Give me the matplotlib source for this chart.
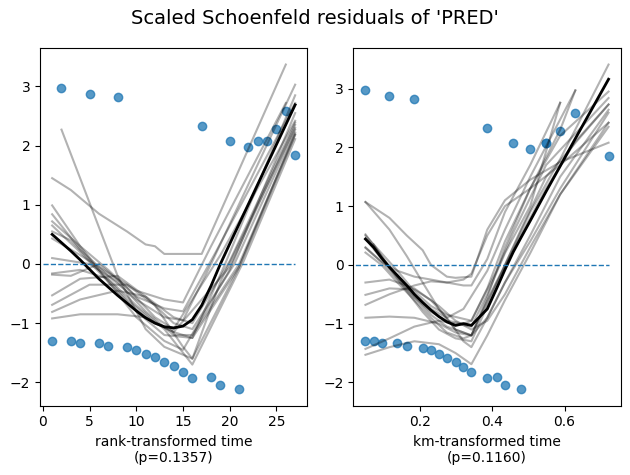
import matplotlib
matplotlib.use("Agg")
import matplotlib.pyplot as plt

# ---- data ----
rank_time = list(range(1, 28))
km_time = [0.0485, 0.0485, 0.071, 0.093, 0.115, 0.137, 0.163, 0.184, 0.207, 0.230,
           0.252, 0.274, 0.298, 0.320, 0.342, 0.386, 0.386, 0.412, 0.435, 0.458,
           0.479, 0.505, 0.549, 0.549, 0.588, 0.630, 0.722]
residuals = [-1.30, 2.97, -1.30, -1.33, 2.88, -1.33, -1.38, 2.82, -1.41, -1.45,
             -1.52, -1.58, -1.65, -1.73, -1.83, -1.93, 2.33, -1.91, -2.05, 2.07,
             -2.12, 1.97, 2.07, 2.07, 2.28, 2.58, 1.85]

# main lowess curves
rank_lowess_x = [1, 2, 3, 4, 5, 6, 7, 8, 9, 10, 11, 12, 13, 14, 15, 16, 17, 18, 19, 20, 27]
rank_lowess_y = [0.50, 0.36, 0.22, 0.07, -0.09, -0.25, -0.39, -0.53, -0.66, -0.79,
                 -0.91, -1.00, -1.06, -1.08, -1.05, -0.94, -0.70, -0.37, 0.0, 0.34, 2.69]
km_lowess_x = [0.0485, 0.071, 0.093, 0.115, 0.137, 0.163, 0.184, 0.207, 0.230, 0.252,
               0.274, 0.298, 0.320, 0.342, 0.386, 0.412, 0.435, 0.458, 0.479, 0.505,
               0.549, 0.588, 0.630, 0.722]
km_lowess_y = [0.44, 0.30, 0.12, -0.04, -0.18, -0.35, -0.50, -0.64, -0.77, -0.88,
               -0.97, -1.03, -1.00, -1.03, -0.75, -0.40, -0.08, 0.22, 0.46, 0.75,
               1.25, 1.68, 2.15, 3.16]

# bootstrap lowess curves (approximate vertices)
rank_boot = [
    [(2, 2.27), (8, -0.2), (11, -1.1), (13, -1.4), (16, -1.6), (19, -0.3), (27, 2.3)],
    [(1, 1.45), (3, 1.25), (6, 0.85), (9, 0.55), (11, 0.33), (12, 0.30), (13, 0.17), (17, 0.17), (26, 3.37)],
    [(1, 0.99), (4, 0.3), (7, -0.3), (10, -0.8), (13, -1.2), (16, -1.25), (19.5, 0.0), (27, 2.85)],
    [(1, 0.84), (4, 0.25), (7, -0.2), (10, -0.6), (13, -0.9), (15, -0.95), (18, 0.0), (27, 3.03)],
    [(1, 0.72), (4, 0.3), (7, -0.1), (10, -0.55), (13, -0.75), (15, -0.8), (18.5, 0.2), (27, 2.72)],
    [(1, 0.55), (3, 0.4), (6, -0.1), (9, -0.6), (12, -1.0), (14, -1.15), (20, -0.05), (27, 2.35)],
    [(1, 0.43), (4, 0.15), (7, -0.15), (10, -0.45), (13, -0.6), (15, -0.65), (18, 0.3), (26, 2.72)],
    [(1, 0.10), (5, 0.0), (8, -0.3), (11, -0.8), (14, -1.2), (16, -1.2), (21, 0.0), (27, 2.19)],
    [(1, -0.16), (4, -0.1), (7, -0.25), (10, -0.7), (13, -1.1), (16, -1.7), (21.5, 0.05), (27, 2.11)],
    [(1, -0.53), (4, -0.25), (8, -0.2), (11, -0.55), (14, -1.0), (16, -1.1), (20.5, 0.0), (27, 2.27)],
    [(1, -0.69), (5, -0.35), (9, -0.35), (12, -0.7), (15, -1.4), (16, -1.6), (21, -0.05), (27, 2.22)],
    [(1, -0.81), (4, -0.6), (8, -0.45), (11, -0.55), (14, -0.9), (16, -1.0), (20, 0.05), (27, 2.39)],
    [(1, -0.92), (4, -0.85), (8, -0.85), (11, -0.9), (14, -1.15), (16, -1.25), (21, -0.05), (27, 2.18)],
    [(1, 0.65), (4, 0.2), (7, -0.3), (10, -0.9), (13, -1.3), (15, -1.45), (20, -0.1), (27, 2.55)],
    [(1, -0.18), (3, -0.2), (6, 0.0), (9, -0.4), (12, -0.9), (14, -1.1), (19, 0.15), (27, 2.42)],
]
km_boot = [
    [(0.0485, 1.07), (0.115, 0.6), (0.163, 0.15), (0.207, -0.3), (0.252, -0.75), (0.298, -1.1), (0.342, -1.2), (0.386, -0.55), (0.435, 0.3), (0.505, 1.3), (0.588, 2.3), (0.630, 2.97)],
    [(0.0485, 1.07), (0.115, 0.8), (0.163, 0.5), (0.207, 0.25), (0.230, 0.0), (0.274, -0.2), (0.298, -0.22), (0.342, -0.2), (0.386, 0.6), (0.435, 1.1), (0.505, 1.45), (0.588, 1.75), (0.722, 2.08)],
    [(0.0485, 0.52), (0.093, 0.15), (0.137, -0.2), (0.184, -0.55), (0.230, -0.85), (0.274, -1.05), (0.320, -1.15), (0.342, -1.2), (0.386, -0.6), (0.435, 0.0), (0.505, 0.9), (0.588, 1.8), (0.722, 3.41)],
    [(0.0485, 0.29), (0.093, 0.05), (0.137, -0.25), (0.184, -0.55), (0.230, -0.8), (0.274, -0.95), (0.320, -1.0), (0.342, -0.95), (0.412, -0.1), (0.458, 0.55), (0.549, 1.7), (0.722, 2.84)],
    [(0.0485, 0.21), (0.093, 0.0), (0.137, -0.3), (0.184, -0.6), (0.230, -0.9), (0.274, -1.15), (0.320, -1.25), (0.342, -1.2), (0.412, -0.3), (0.479, 0.5), (0.549, 1.3), (0.630, 2.1), (0.722, 2.73)],
    [(0.0485, -0.51), (0.115, -0.4), (0.184, -0.42), (0.230, -0.6), (0.274, -0.9), (0.320, -1.3), (0.342, -1.4), (0.386, -0.9), (0.435, -0.3), (0.505, 0.5), (0.588, 1.5), (0.722, 2.64)],
    [(0.0485, -0.68), (0.115, -0.5), (0.184, -0.35), (0.230, -0.28), (0.274, -0.3), (0.320, -0.25), (0.342, -0.15), (0.386, 0.5), (0.435, 1.0), (0.505, 1.3), (0.588, 1.7), (0.722, 2.42)],
    [(0.0485, -0.90), (0.115, -0.88), (0.184, -0.9), (0.252, -1.0), (0.298, -1.15), (0.342, -1.2), (0.386, -0.9), (0.435, -0.3), (0.505, 0.4), (0.588, 1.3), (0.722, 2.59)],
    [(0.0485, -1.43), (0.115, -1.25), (0.184, -1.05), (0.252, -0.95), (0.298, -1.0), (0.342, -1.05), (0.386, -0.5), (0.435, 0.2), (0.505, 1.0), (0.588, 2.76)],
    [(0.0485, -1.53), (0.115, -1.4), (0.184, -1.3), (0.252, -1.35), (0.298, -1.5), (0.342, -1.69), (0.386, -1.2), (0.435, -0.6), (0.505, 0.2), (0.588, 1.2), (0.722, 2.42)],
    [(0.0485, 0.45), (0.093, 0.1), (0.137, -0.2), (0.184, -0.5), (0.230, -0.75), (0.274, -0.9), (0.320, -0.75), (0.386, -0.1), (0.435, 0.6), (0.505, 1.5), (0.630, 2.97)],
    [(0.071, 0.35), (0.115, -0.05), (0.163, -0.45), (0.207, -0.8), (0.252, -1.1), (0.298, -1.25), (0.342, -1.3), (0.386, -0.7), (0.435, 0.0), (0.479, 0.6), (0.549, 1.5), (0.722, 2.73)],
    [(0.0485, 0.3), (0.093, 0.05), (0.137, -0.1), (0.184, -0.2), (0.230, -0.25), (0.274, -0.3), (0.320, -0.35), (0.342, -0.35), (0.386, 0.1), (0.435, 0.9), (0.505, 1.7), (0.588, 2.76)],
    [(0.0485, -0.3), (0.115, -0.25), (0.184, -0.4), (0.252, -0.7), (0.298, -0.95), (0.342, -1.1), (0.386, -0.95), (0.435, -0.5), (0.505, 0.3), (0.588, 1.2), (0.722, 2.35)],
    [(0.0485, 0.5), (0.093, 0.2), (0.137, -0.1), (0.184, -0.45), (0.230, -0.7), (0.274, -0.85), (0.342, -0.95), (0.386, -0.4), (0.435, 0.4), (0.505, 1.3), (0.588, 2.2), (0.722, 2.95)],
]

title = "Scaled Schoenfeld residuals of 'PRED'"
xlabels = ["rank-transformed time\n(p=0.1357)", "km-transformed time\n(p=0.1160)"]

W, H = 630, 475
fig = plt.figure(figsize=(W / 100, H / 100), dpi=100)
top_px, bot_px = 48.3, 405.7
rects = [
    [40 / W, 1 - bot_px / H, 267.3 / W, (bot_px - top_px) / H],
    [353.3 / W, 1 - bot_px / H, 267.4 / W, (bot_px - top_px) / H],
]
panels = [
    (rank_time, rank_lowess_x, rank_lowess_y, rank_boot),
    (km_time, km_lowess_x, km_lowess_y, km_boot),
]
for i, (tt, lx, ly, boot) in enumerate(panels):
    ax = fig.add_axes(rects[i])
    ax.scatter(tt, residuals, alpha=0.75)
    ax.plot(lx, ly, color="k", alpha=1.0, linewidth=2)
    for line in boot:
        ax.plot([p[0] for p in line], [p[1] for p in line], color="k", alpha=0.30)
    best_xlim = ax.get_xlim()
    ax.hlines(0, 0, max(tt), linestyles="dashed", linewidths=1)
    ax.set_xlim(best_xlim)
    ax.set_xlabel(xlabels[i])

fig.suptitle(title, fontsize=14)
fig.savefig("out.png", dpi=100)
